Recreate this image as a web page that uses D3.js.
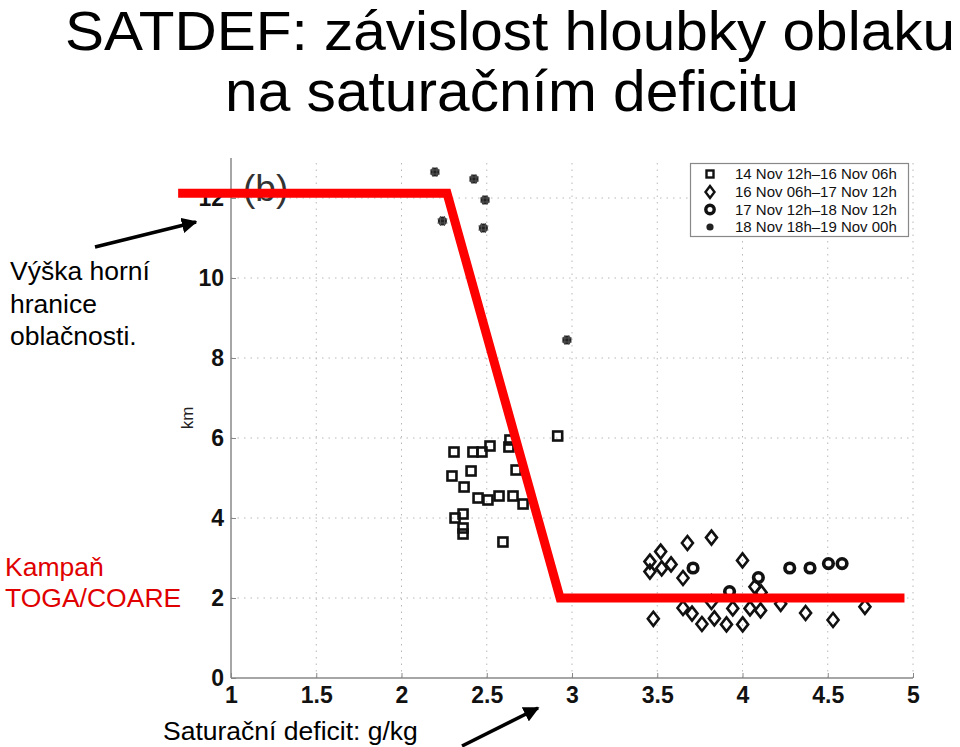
<!DOCTYPE html>
<html><head><meta charset="utf-8">
<script src="https://cdn.jsdelivr.net/npm/d3@7"></script>
<style>body{margin:0;background:#fff}svg{display:block}</style>
</head><body>
<script>
// ---- data ----
const xTicks = [1, 1.5, 2, 2.5, 3, 3.5, 4, 4.5, 5];
const yTicks = [0, 2, 4, 6, 8, 10, 12];
const legendLabels = ["14 Nov 12h\u201316 Nov 06h", "16 Nov 06h\u201317 Nov 12h", "17 Nov 12h\u201318 Nov 12h", "18 Nov 18h\u201319 Nov 00h"];
const squareX = [2.308,2.419,2.472,2.519,2.630,2.636,2.916,2.296,2.408,2.367,2.449,2.507,2.572,2.654,2.713,2.672,2.314,2.361,2.361,2.361,2.595];
const squareY = [5.65,5.65,5.65,5.80,5.775,5.95,6.05,5.05,5.175,4.775,4.50,4.45,4.55,4.55,4.35,5.20,4.00,4.10,3.75,3.60,3.40];
const diamondX = [3.457,3.457,3.520,3.526,3.581,3.677,3.818,3.651,4.000,4.073,4.109,3.818,3.651,3.704,3.477,3.762,3.835,3.906,4.001,3.943,4.044,4.106,4.224,4.370,4.531,4.718];
const diamondY = [2.91,2.66,3.16,2.74,2.84,3.375,3.51,2.50,2.94,2.28,2.14,1.90,1.75,1.61,1.48,1.35,1.49,1.34,1.34,1.74,1.74,1.69,1.855,1.625,1.45,1.78];
const circleX = [3.710,3.924,4.093,4.277,4.396,4.504,4.584];
const circleY = [2.75,2.16,2.51,2.75,2.75,2.86,2.86];
const starX = [2.196,2.425,2.490,2.240,2.480,2.970];
const starY = [12.65,12.475,11.95,11.425,11.25,8.45];
const redLineX = [0.69, 2.267, 2.93, 4.95];
const redLineY = [12.12, 12.12, 2.0, 2.0];

// ---- setup ----
const W = 960, H = 747;
const svg = d3.select("body").append("svg").attr("width", W).attr("height", H);
const x = d3.scaleLinear().domain([1, 5]).range([231, 913]);
const y = d3.scaleLinear().domain([0, 13]).range([678, 158]);
const font = "'Liberation Sans', Arial, Helvetica, sans-serif";

svg.append("defs").append("marker").attr("id","arr").attr("viewBox","0 0 10 10")
  .attr("refX",9).attr("refY",5).attr("markerWidth",4.5).attr("markerHeight",4.5)
  .attr("orient","auto").attr("markerUnits","strokeWidth")
  .append("path").attr("d","M0,0 L10,5 L0,10 Z").attr("fill","#000");

// grid
const g = svg.append("g");
g.selectAll(".vg").data(xTicks.slice(1)).join("line")
  .attr("x1", d => x(d)).attr("x2", d => x(d)).attr("y1", y(0)).attr("y2", y(13))
  .attr("stroke","#b8b8b8").attr("stroke-width",1).attr("stroke-dasharray","1.5,5");
g.selectAll(".hg").data(yTicks.slice(1)).join("line")
  .attr("x1", x(1)).attr("x2", x(5)).attr("y1", d => y(d)).attr("y2", d => y(d))
  .attr("stroke","#b8b8b8").attr("stroke-width",1).attr("stroke-dasharray","1.5,5");

// axes
const xAxis = d3.axisBottom(x).tickValues(xTicks).tickSize(-5).tickPadding(8).tickFormat(d3.format("~g"));
const yAxis = d3.axisLeft(y).tickValues(yTicks).tickSize(-5).tickPadding(7).tickFormat(d3.format("~g"));
const gx = svg.append("g").attr("transform", `translate(0,${y(0)})`).call(xAxis);
const gy = svg.append("g").attr("transform", `translate(${x(1)},0)`).call(yAxis);
[gx, gy].forEach(a => {
  a.select(".domain").attr("stroke","#888").attr("stroke-width",1.5);
  a.selectAll(".tick line").attr("stroke","#888");
  a.selectAll(".tick text").attr("font-family", font).attr("font-weight","bold")
    .attr("font-size", 23).attr("fill","#111");
});
gy.select(".domain").attr("d", `M0,${y(13)}V${y(0)}`);
gx.select(".domain").attr("d", `M${x(1)},0H${x(5)}`);
gx.selectAll(".tick text").attr("dy","0.72em");

// km label
svg.append("text").attr("transform", `translate(193,418) rotate(-90)`)
  .attr("text-anchor","middle").attr("font-family", font).attr("font-size", 17).attr("fill","#222").text("km");

// (b)
svg.append("text").attr("x", 243).attr("y", 201).attr("font-family", font).attr("font-size", 37)
  .attr("fill","#333").text("(b)");

// markers
const pts = svg.append("g");
pts.selectAll(".sq").data(d3.range(squareX.length)).join("rect")
  .attr("x", i => x(squareX[i]) - 4.5).attr("y", i => y(squareY[i]) - 4.5)
  .attr("width", 9).attr("height", 9).attr("fill","none")
  .attr("stroke","#111").attr("stroke-width",2.6);
pts.selectAll(".dm").data(d3.range(diamondX.length)).join("path")
  .attr("transform", i => `translate(${x(diamondX[i])},${y(diamondY[i])})`)
  .attr("d","M0,-7 L5.5,0 L0,7 L-5.5,0 Z").attr("fill","none")
  .attr("stroke","#111").attr("stroke-width",2.6);
pts.selectAll(".ci").data(d3.range(circleX.length)).join("circle")
  .attr("cx", i => x(circleX[i])).attr("cy", i => y(circleY[i])).attr("r", 4.8)
  .attr("fill","none").attr("stroke","#111").attr("stroke-width",3.6);
const st = pts.selectAll(".st").data(d3.range(starX.length)).join("g")
  .attr("transform", i => `translate(${x(starX[i])},${y(starY[i])})`);
st.append("circle").attr("r",4.6).attr("fill","#222");
st.append("path").attr("d","M-5,-2 L5,-2 M-5,2 L5,2 M-2,-5 L-2,5 M2,-5 L2,5").attr("stroke","#555").attr("stroke-width",1);

// legend
const lg = svg.append("g");
lg.append("rect").attr("x",690.5).attr("y",163.5).attr("width",218).attr("height",73)
  .attr("fill","#fff").attr("stroke","#888").attr("stroke-width",1.2);
const ly = [174, 192, 209.5, 227];
lg.selectAll(".lt").data(legendLabels).join("text")
  .attr("x", 735).attr("y", (d,i) => ly[i]).attr("dy","0.36em")
  .attr("font-family", font).attr("font-size", 15).attr("fill","#111").text(d => d);
lg.append("rect").attr("x",706.5).attr("y",ly[0]-3.5).attr("width",7).attr("height",7)
  .attr("fill","none").attr("stroke","#111").attr("stroke-width",2.4);
lg.append("path").attr("transform",`translate(710,${ly[1]})`).attr("d","M0,-6 L4.5,0 L0,6 L-4.5,0 Z")
  .attr("fill","none").attr("stroke","#111").attr("stroke-width",2.4);
lg.append("circle").attr("cx",710).attr("cy",ly[2]).attr("r",4.2).attr("fill","none").attr("stroke","#111").attr("stroke-width",3.4);
lg.append("circle").attr("cx",710).attr("cy",ly[3]).attr("r",3.6).attr("fill","#222");

// red line
const line = d3.line().x(i => x(redLineX[i])).y(i => y(redLineY[i]));
svg.append("path").attr("d", line(d3.range(redLineX.length))).attr("fill","none")
  .attr("stroke","#ff0000").attr("stroke-width",9).attr("stroke-linejoin","miter");

// titles
svg.append("text").attr("x",510).attr("y",50).attr("text-anchor","middle")
  .attr("font-family", font).attr("font-size",55).attr("fill","#000")
  .attr("textLength",890).attr("lengthAdjust","spacingAndGlyphs")
  .text("SATDEF: závislost hloubky oblaku");
svg.append("text").attr("x",512).attr("y",111).attr("text-anchor","middle")
  .attr("font-family", font).attr("font-size",57).attr("fill","#000")
  .attr("textLength",574).attr("lengthAdjust","spacingAndGlyphs")
  .text("na saturačním deficitu");

// annotations
const ann = [["Výška horní",280],["hranice",313],["oblačnosti.",345]];
svg.selectAll(".ann").data(ann).join("text").attr("x",10).attr("y",d=>d[1])
  .attr("font-family", font).attr("font-size",26.5).attr("fill","#000").text(d=>d[0]);
const ann2 = [["Kampaň",576],["TOGA/COARE",607]];
svg.selectAll(".ann2").data(ann2).join("text").attr("x",5).attr("y",d=>d[1])
  .attr("font-family", font).attr("font-size",26.5).attr("fill","#e00000").text(d=>d[0]);
svg.append("text").attr("x",163).attr("y",740).attr("font-family", font).attr("font-size",26.5)
  .attr("fill","#000").text("Saturační deficit: g/kg");

// arrows
svg.append("line").attr("x1",95).attr("y1",247).attr("x2",196).attr("y2",222)
  .attr("stroke","#000").attr("stroke-width",3.5).attr("marker-end","url(#arr)");
svg.append("line").attr("x1",462).attr("y1",746).attr("x2",538).attr("y2",708)
  .attr("stroke","#000").attr("stroke-width",3.5).attr("marker-end","url(#arr)");
</script>
</body></html>
